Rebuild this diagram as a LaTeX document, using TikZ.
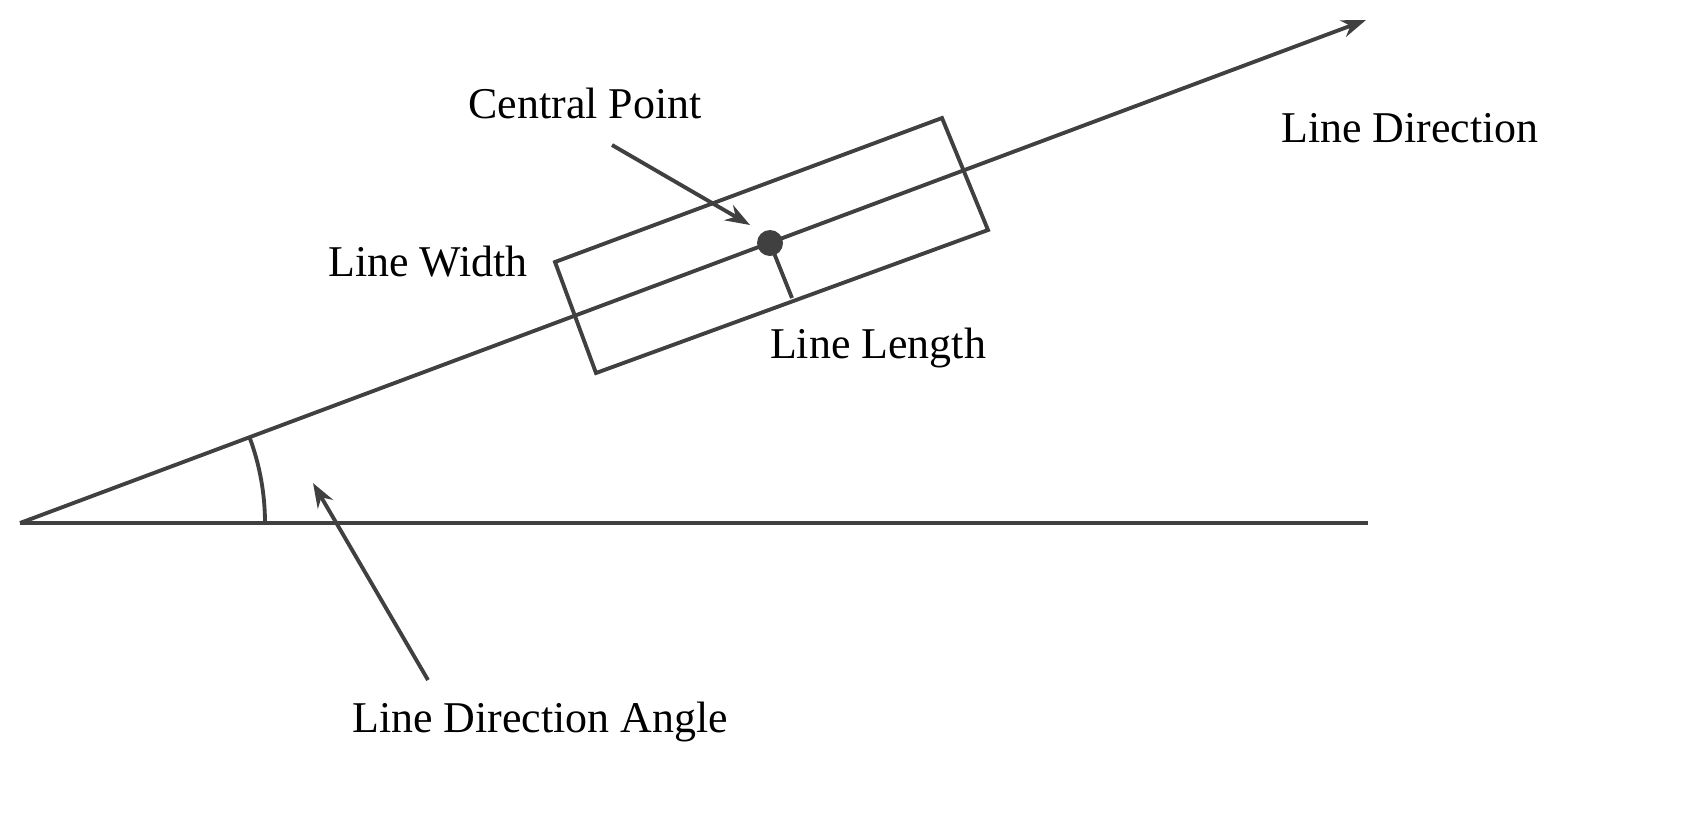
\documentclass[tikz,border=0pt]{standalone}
\usepackage{fontspec}
\setmainfont{Liberation Serif}
\usetikzlibrary{arrows.meta}
\definecolor{ink}{HTML}{404040}
\begin{document}
\begin{tikzpicture}[
  x=0.02cm, y=-0.02cm,
  edge/.style={draw=ink, line width=2.2pt},
  pointer/.style={edge, -{Stealth[length=14pt, width=10pt]}},
  label/.style={font=\fontsize{25}{30}\selectfont, text=black, inner sep=0pt}
]
\useasboundingbox (0,0) rectangle (1689,823);

% axis and direction line
\coordinate (O) at (20,523);
\coordinate (XEnd) at (1368,523);
\coordinate (DirEnd) at (1366,20);
\draw[edge] (O) -- (XEnd);
\draw[pointer] (O) -- (DirEnd);

% rectangle around the line
\coordinate (R1) at (555,262);
\coordinate (R2) at (942,118);
\coordinate (R3) at (988,230);
\coordinate (R4) at (596,373);
\draw[edge] (R1) -- (R2) -- (R3) -- (R4) -- cycle;

% central point
\coordinate (Center) at (770,243);
\coordinate (Foot) at (792,298);
\fill[ink] (Center) circle (13);
\draw[edge] (Center) -- (Foot);

% angle arc
\draw[edge] (O) ++(-20.5:245) arc[start angle=-20.5, end angle=0, radius=245];

% labels
\node[label] (CentralLbl) at (585,103) {Central Point};
\node[label] (DirLbl) at (1410,128) {Line Direction};
\node[label] (WidthLbl) at (428,262) {Line Width};
\node[label] (LengthLbl) at (878,348) {Line Length};
\node[label] (AngleLbl) at (540,722) {Line Direction Angle};

% pointers
\coordinate (PA) at (428,680);
\coordinate (PB) at (313,483);
\coordinate (PC) at (612,145);
\coordinate (PD) at (750,225);
\draw[pointer] (PA) -- (PB);
\draw[pointer] (PC) -- (PD);

\end{tikzpicture}
\end{document}
